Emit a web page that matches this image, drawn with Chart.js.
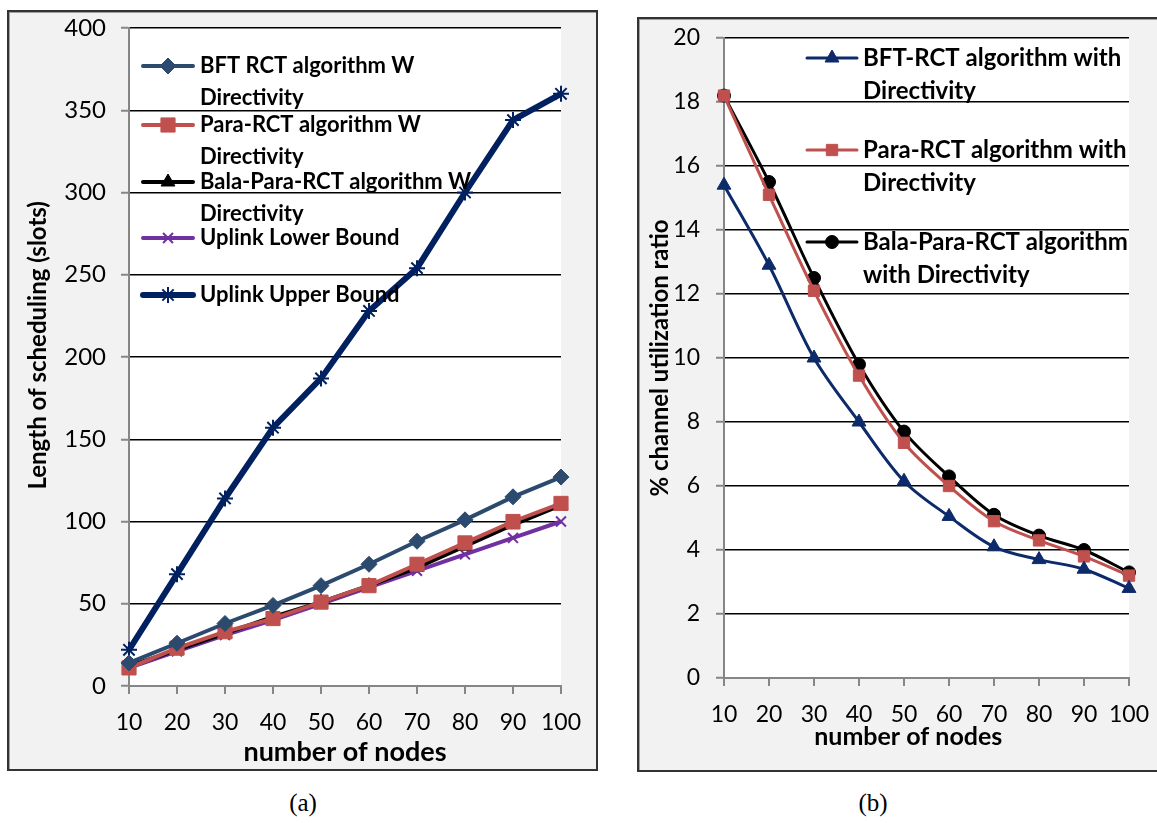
<!DOCTYPE html>
<html>
<head>
<meta charset="utf-8">
<script src="https://cdn.jsdelivr.net/npm/chart.js@4.4.1/dist/chart.umd.min.js"></script>
<style>
  html, body { margin: 0; padding: 0; background: #fff; width: 1157px; height: 823px; overflow: hidden; }
  .frame { position: absolute; border: 2px solid #333; background: #f2f2f2; box-shadow: inset 1px 1px 0 #a0a0a0; }
  #frameA { left: 7px; top: 10px; width: 587px; height: 757px; }
  #frameB { left: 637px; top: 17px; width: 520px; height: 751px; }
  .frame canvas { position: absolute; left: 0; top: 0; }
  .caption { position: absolute; top: 789px; width: 60px; line-height: 28px; text-align: center;
             font-family: 'Liberation Serif', 'Times New Roman', serif; font-size: 25px; color: #000; }
</style>
</head>
<body>
<div class="frame" id="frameA"><canvas id="chartA" width="587" height="757"></canvas></div>
<div class="frame" id="frameB"><canvas id="chartB" width="520" height="751"></canvas></div>
<div class="caption" style="left:273px">(a)</div>
<div class="caption" style="left:843px">(b)</div>
<script>
// x categories, shared by both charts
const nodeLabels = ['10', '20', '30', '40', '50', '60', '70', '80', '90', '100'];

// (a) length of scheduling (slots)
const schedTicks = [0, 50, 100, 150, 200, 250, 300, 350, 400];
const bftSched = [14, 26, 38, 49, 61, 74, 88, 101, 115, 127];
const paraSched = [11, 23, 33, 41, 51, 61, 74, 87, 100, 111];
const balaSched = [12, 22, 32, 42, 51, 61, 72, 85, 98, 110];
const lowerSched = [11, 21, 31, 40, 50, 60, 70, 80, 90, 100];
const upperSched = [22, 68, 114, 157, 187, 228, 254, 300, 344, 360];
const legendSched = [
    ['BFT RCT algorithm W', 'Directivity'],
    ['Para-RCT algorithm W', 'Directivity'],
    ['Bala-Para-RCT algorithm W', 'Directivity'],
    ['Uplink Lower Bound'],
    ['Uplink Upper Bound']
];

// (b) % channel utilization ratio
const utilTicks = [0, 2, 4, 6, 8, 10, 12, 14, 16, 18, 20];
const bftUtil = [15.4, 12.9, 10.0, 8.0, 6.15, 5.05, 4.1, 3.7, 3.4, 2.8];
const paraUtil = [18.2, 15.1, 12.1, 9.45, 7.35, 6.0, 4.9, 4.3, 3.8, 3.2];
const balaUtil = [18.2, 15.5, 12.5, 9.8, 7.7, 6.3, 5.1, 4.45, 4.0, 3.3];
const legendUtil = [
    ['BFT-RCT algorithm with', 'Directivity'],
    ['Para-RCT algorithm with', 'Directivity'],
    ['Bala-Para-RCT algorithm', 'with Directivity']
];

const FONT = "Lato, 'Open Sans', sans-serif";
const NB = '\u00a0';
Chart.defaults.font.family = FONT;
Chart.defaults.color = '#000';

// white plot area on the grey chart background
const plotBg = {
    id: 'plotBg',
    beforeDraw(chart) {
        const { ctx, chartArea: a } = chart;
        ctx.save();
        ctx.fillStyle = '#fff';
        ctx.fillRect(a.left, a.top, a.right - a.left, a.bottom - a.top);
        ctx.restore();
    }
};

// Excel style legend with wrapped entries, drawn inside the plot
const wrapLegend = {
    id: 'wrapLegend',
    afterDraw(chart, args, opts) {
        const ctx = chart.ctx;
        ctx.save();
        ctx.font = opts.font;
        ctx.textBaseline = 'middle';
        chart.data.datasets.forEach((ds, i) => {
            const y = opts.rows[i];
            ctx.strokeStyle = ds.borderColor;
            ctx.lineWidth = ds.borderWidth;
            ctx.lineCap = 'round';
            ctx.beginPath();
            ctx.moveTo(opts.x0, y);
            ctx.lineTo(opts.x1, y);
            ctx.stroke();
            ctx.lineCap = 'butt';
            ctx.fillStyle = ds.pointBackgroundColor;
            ctx.strokeStyle = ds.pointBorderColor;
            ctx.lineWidth = ds.pointBorderWidth;
            Chart.helpers.drawPoint(ctx, {
                pointStyle: ds.pointStyle,
                radius: ds.pointRadius,
                borderWidth: ds.pointBorderWidth,
                rotation: 0
            }, (opts.x0 + opts.x1) / 2, y);
            ctx.fillStyle = '#000';
            ds.legendText.forEach((t, k) => ctx.fillText(t, opts.textX, y + k * opts.lineGap));
        });
        ctx.restore();
    }
};

function series(label, data, color, width, style, radius, borderW) {
    return {
        legendText: label,
        data: data,
        borderColor: color,
        backgroundColor: color,
        borderWidth: width,
        pointStyle: style,
        pointRadius: radius,
        pointBackgroundColor: color,
        pointBorderColor: color,
        pointBorderWidth: borderW
    };
}

// the plot area is placed by layout.padding alone, so drop the label padding of the scales
function noPad(s) {
    s.paddingTop = 0;
    s.paddingBottom = 0;
    s.paddingLeft = 0;
    s.paddingRight = 0;
}

function axes(yTicks, yMax, yTitle, xTitle, o) {
    return {
        x: {
            offset: false,
            border: { color: '#868686', width: 2 },
            grid: { drawOnChartArea: false, tickLength: 8, tickColor: '#868686', lineWidth: 2 },
            ticks: { font: { size: 23 }, padding: 15, autoSkip: false, maxRotation: 0 },
            title: { display: true, text: xTitle, font: { size: o.xTitleSize, weight: 'bold' },
                     padding: { top: 0, bottom: o.xTitlePad } },
            afterFit: s => { s.height = o.xHeight; noPad(s); }
        },
        y: {
            min: 0,
            max: yMax,
            afterBuildTicks: s => { s.ticks = yTicks.map(v => ({ value: v })); },
            border: { color: '#868686', width: 2 },
            grid: {
                color: c => (c.tick && c.tick.value === 0) ? 'rgba(0,0,0,0)' : '#000',
                lineWidth: 1.5, tickLength: 8, tickColor: '#868686', tickWidth: 2
            },
            ticks: { font: { size: o.yTickSize }, padding: o.yTickPad },
            title: { display: true, text: yTitle, font: { size: o.yTitleSize, weight: 'bold' },
                     padding: { top: o.yTitlePad, bottom: 0 } },
            afterFit: s => { s.width = o.yWidth; noPad(s); }
        }
    };
}

new Chart(document.getElementById('chartA'), {
    type: 'line',
    data: {
        labels: nodeLabels,
        datasets: [
            series(legendSched[0], bftSched, '#2c4a6e', 4, 'rectRot', 8, 1),
            series(legendSched[1], paraSched, '#c0504d', 4, 'rect', 10, 1),
            series(legendSched[2], balaSched, '#000000', 4, 'triangle', 8, 1),
            series(legendSched[3], lowerSched, '#7030a0', 4, 'crossRot', 7, 2),
            series(legendSched[4], upperSched, '#002060', 6, 'star', 8, 2)
        ]
    },
    options: {
        responsive: false,
        animation: false,
        layout: { autoPadding: false, padding: { top: 16, right: 35, left: 0, bottom: 0 } },
        scales: axes(schedTicks, 400, NB.repeat(4) + 'Length of scheduling (slots)', 'number of nodes',
            { xHeight: 83, xTitleSize: 27, xTitlePad: 1, yWidth: 120, yTitleSize: 24, yTitlePad: 15,
              yTickSize: 24, yTickPad: 15 }),
        plugins: {
            legend: { display: false },
            tooltip: { enabled: false },
            wrapLegend: { font: 'bold 22px ' + FONT, x0: 134, x1: 184, textX: 191,
                          rows: [54, 113, 170, 226, 283], lineGap: 32 }
        }
    },
    plugins: [plotBg, wrapLegend]
});

new Chart(document.getElementById('chartB'), {
    type: 'line',
    data: {
        labels: nodeLabels,
        datasets: [
            series(legendUtil[0], bftUtil, '#0d2a6a', 3, 'triangle', 8, 1),
            series(legendUtil[1], paraUtil, '#c0504d', 3, 'rect', 8, 1),
            series(legendUtil[2], balaUtil, '#000000', 3, 'circle', 6.5, 1)
        ]
    },
    options: {
        responsive: false,
        animation: false,
        elements: { line: { tension: 0.33 } },
        layout: { autoPadding: false, padding: { top: 19, right: 30, left: 0, bottom: 0 } },
        scales: axes(utilTicks, 20, '% channel utilization ratio', 'number of nodes' + NB.repeat(6),
            { xHeight: 92, xTitleSize: 25, xTitlePad: 18, yWidth: 85, yTitleSize: 24, yTitlePad: 7,
              yTickSize: 23, yTickPad: 16 }),
        plugins: {
            legend: { display: false },
            tooltip: { enabled: false },
            wrapLegend: { font: 'bold 24px ' + FONT, x0: 168, x1: 218, textX: 224,
                          rows: [39, 131, 223], lineGap: 33 }
        }
    },
    plugins: [plotBg, wrapLegend]
});
</script>
</body>
</html>
